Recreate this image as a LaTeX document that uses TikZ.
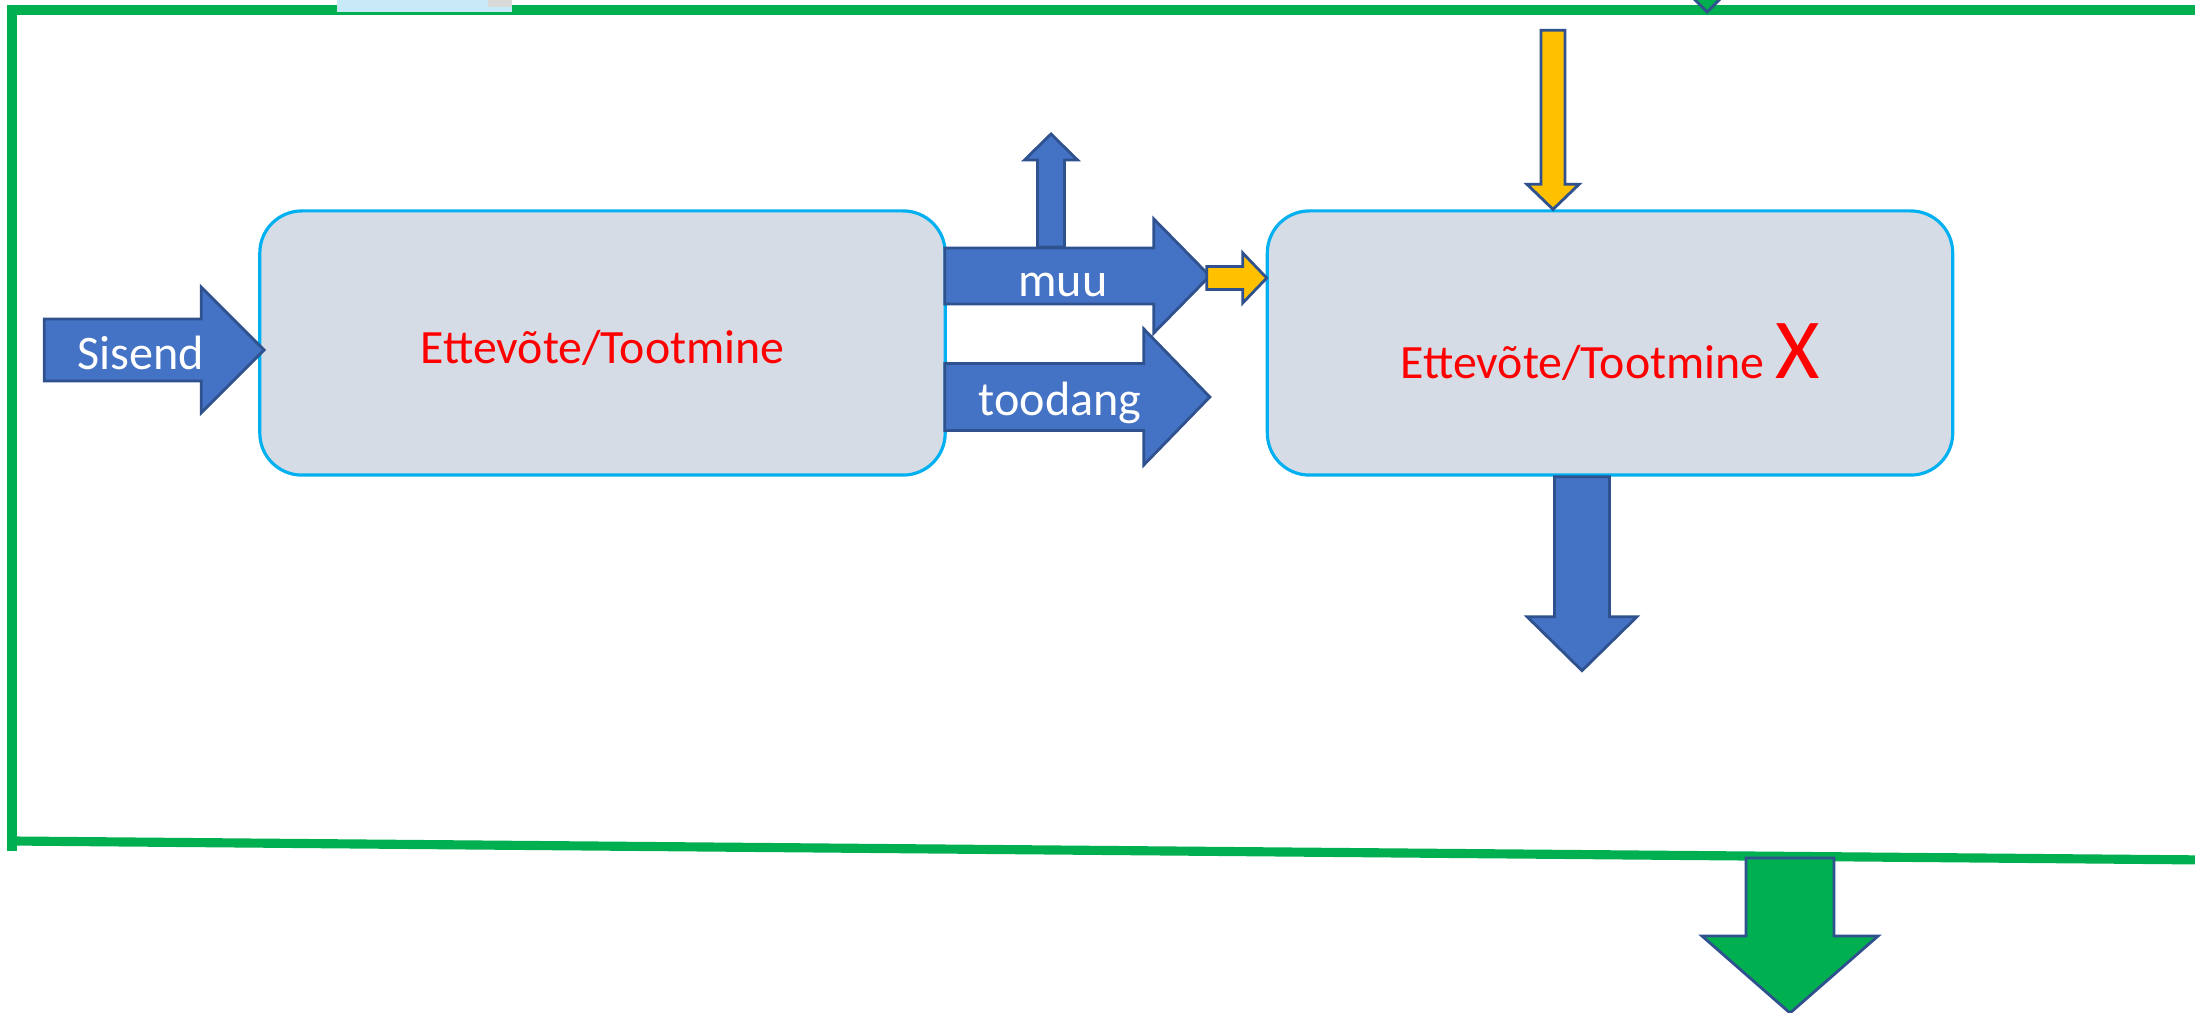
\documentclass[tikz,border=0pt]{standalone}
\usepackage{fontspec}
\setmainfont{Carlito}
\usetikzlibrary{calc}

\definecolor{arrowblue}{HTML}{4472C4}
\definecolor{arrowedge}{HTML}{2F528F}
\definecolor{arrowyellow}{HTML}{FFC000}
\definecolor{framegreen}{HTML}{00B050}
\definecolor{boxfill}{HTML}{D6DCE5}
\definecolor{boxedge}{HTML}{00B0F0}
\definecolor{mapblue}{HTML}{C8EAF8}

\tikzset{
  box/.style={draw=boxedge, fill=boxfill, line width=0.9pt, rounded corners=0.42cm,
    minimum width=6.85cm, minimum height=2.64cm, inner sep=0pt, text=red,
    font=\fontsize{13.6}{16}\selectfont},
  bluearrow/.style={fill=arrowblue, draw=arrowedge, line width=0.8pt},
  yellowarrow/.style={fill=arrowyellow, draw=arrowedge, line width=0.8pt},
  greenarrow/.style={fill=framegreen, draw=arrowedge, line width=0.8pt},
  frameline/.style={draw=framegreen, line width=2.6pt},
  label/.style={text=white, anchor=base, inner sep=0pt, font=\fontsize{13.7}{16}\selectfont}
}

% block arrow: style, tail, angle, length, shaft half width, head half width, head length
\newcommand{\blockarrow}[7][]{%
  \begin{scope}[shift={#2}, rotate=#3]
    \draw[#1] (0,-#5) -- ({#4-#7},-#5) -- ({#4-#7},-#6) -- (#4,0)
      -- ({#4-#7},#6) -- ({#4-#7},#5) -- (0,#5) -- cycle;
  \end{scope}}

\begin{document}
\begin{tikzpicture}[x=0.01cm, y=-0.01cm]
  \clip (0,0) rectangle (2195,1013);
  \fill[white] (0,0) rectangle (2195,1013);

  % frame
  \draw[frameline] (2210,10) -- (12,10) -- (12,851);
  \draw[frameline] (12,841) -- (2210,860);
  \fill[mapblue] (337,-5) rectangle (512,12);
  \fill[gray!30] (488,-5) rectangle (512,7);
  \blockarrow[greenarrow]{(1707,-150)}{-90}{162}{30}{60}{60}

  % boxes
  \node[box] (box1) at (602.5,343) {\raisebox{-5.7pt}[0pt][0pt]{Ettevõte/Tootmine}};
  \node[box] (box2) at (1610,343) {\raisebox{-10pt}[0pt][0pt]{Ettevõte/Tootmine {\fontsize{24.3}{28}\selectfont X}}};

  % arrows
  \blockarrow[bluearrow]{($(box1.west)+(-214,7)$)}{0}{220}{31}{63}{63}
  \blockarrow[bluearrow]{(1051,247)}{90}{113}{13.5}{26.5}{26}
  \blockarrow[bluearrow]{($(box1.east)+(-2,-67)$)}{0}{265}{28}{57}{56}
  \blockarrow[bluearrow]{($(box1.east)+(-2,54)$)}{0}{265}{33.5}{68}{66}
  \blockarrow[yellowarrow]{($(box2.west)+(-59,-65)$)}{0}{60}{11.5}{25}{24}
  \blockarrow[yellowarrow]{($(box2.north)+(-57,-179)$)}{-90}{179}{12}{26}{25}
  \blockarrow[bluearrow]{($(box2.south)+(-28,0)$)}{-90}{194}{27.5}{55}{54}
  \blockarrow[greenarrow]{(1790,858)}{-90}{155}{44}{88}{77}

  % labels
  \node[label] (sisend) at (141,370) {Sisend};
  \node[label] (muu) at (1063,297) {muu};
  \node[label] (toodang) at (1060,416) {toodang};
\end{tikzpicture}
\end{document}
